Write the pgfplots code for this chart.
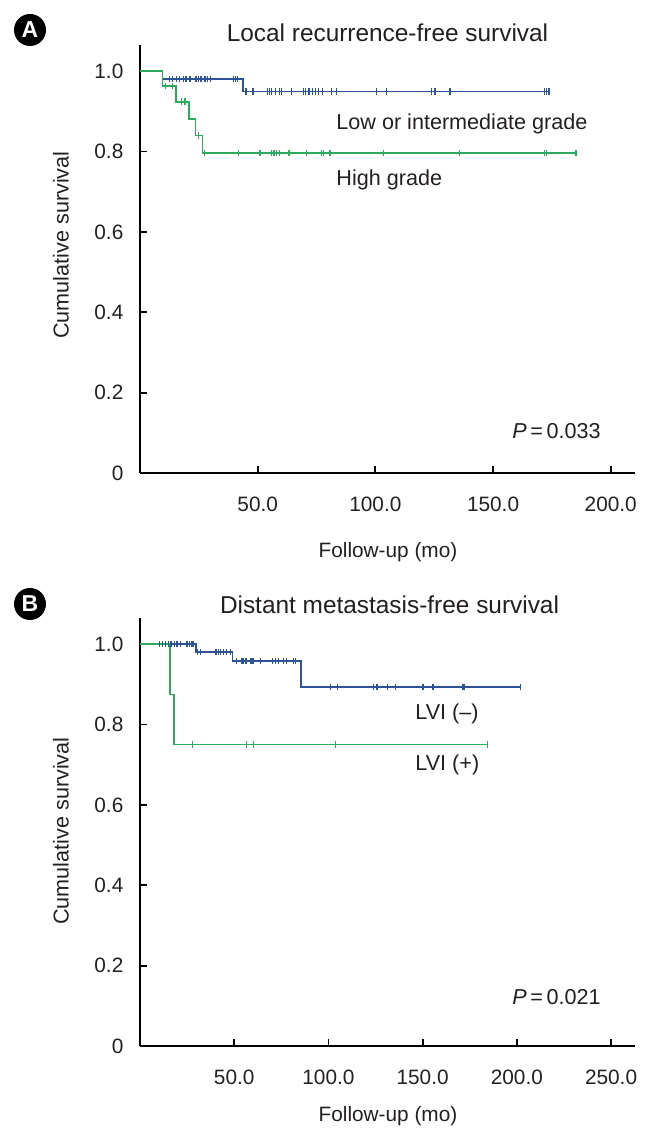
\documentclass[border=0pt]{standalone}
\usepackage{pgfplots}
\pgfplotsset{compat=1.18}
\usepackage{fontspec}
\setmainfont{Liberation Sans}
\definecolor{kmblue}{RGB}{44,82,152}
\definecolor{kmgreen}{RGB}{46,170,94}
\definecolor{txt}{RGB}{35,31,32}
\pgfplotsset{kmaxis/.style={
  scale only axis, width=247.5pt, height=214pt,
  xmin=0, ymin=0, ymax=1.065,
  axis x line*=bottom, axis y line*=left,
  axis line style={line width=1pt, -, black},
  every outer x axis line/.append style={-},
  every outer y axis line/.append style={-},
  tick style={line width=0.9pt, black},
  major tick length=3.5pt,
  tick align=inside,
  ytick={0,0.2,0.4,0.6,0.8,1.0},
  yticklabels={0,0.2,0.4,0.6,0.8,1.0},
  ticklabel style={font=\fontsize{10.4}{11}\selectfont, text=txt},
  xticklabel style={yshift=-8.6pt},
  yticklabel style={xshift=-4.8pt},
  clip=false,
},
kmline/.style={line width=0.85pt, const plot},
kmmark/.style={only marks, mark=|, mark size=1.6pt, mark options={line width=0.6pt}},
}
\begin{document}
\begin{tikzpicture}
\useasboundingbox (0,0) rectangle (329pt,570pt);
% ---------- Panel A ----------
\begin{axis}[kmaxis, at={(70pt,333.5pt)}, anchor=south west,
  xmax=210.3, xtick={50,100,150,200}, xticklabels={50.0,100.0,150.0,200.0}]
\addplot[kmblue, kmline] coordinates {(0,1) (9.6,0.980) (43.9,0.949) (173.8,0.949)};
\addplot[kmgreen, kmline] coordinates {(0,1) (9.6,0.963) (15.3,0.924) (20.7,0.881) (23.6,0.840) (26.5,0.796) (185.2,0.796)};
\addplot[kmblue, kmmark] coordinates {
(12.5,0.980) (13.9,0.980) (15.6,0.980) (16.7,0.980) (18.4,0.980) (19.5,0.980) (21.2,0.980) (23.8,0.980) (24.8,0.980) (25.9,0.980) (27.6,0.980) (28.6,0.980) (29.9,0.980) (39.7,0.980) (40.5,0.980) (41.3,0.980)
(45.0,0.949) (48.0,0.949) (54.1,0.949) (54.9,0.949) (55.9,0.949) (57.6,0.949) (59.2,0.949) (60.2,0.949) (64.3,0.949) (69.4,0.949) (70.4,0.949) (71.8,0.949) (73.4,0.949) (74.4,0.949) (75.9,0.949) (77.5,0.949) (81.4,0.949) (83.6,0.949) (100.6,0.949) (104.6,0.949) (123.9,0.949) (125.3,0.949) (131.7,0.949) (172.0,0.949) (172.8,0.949) (173.8,0.949)};
\addplot[kmgreen, kmmark] coordinates {
(11.0,0.963) (13.9,0.963) (17.7,0.924) (19.1,0.924) (24.8,0.840)
(27.3,0.796) (41.8,0.796) (51.0,0.796) (55.9,0.796) (56.9,0.796) (58.0,0.796) (59.2,0.796) (63.3,0.796) (70.8,0.796) (77.2,0.796) (77.9,0.796) (80.7,0.796) (103.4,0.796) (135.7,0.796) (172.0,0.796) (172.8,0.796) (185.2,0.796)};
\end{axis}
% ---------- Panel B ----------
\begin{axis}[kmaxis, at={(70pt,47pt)}, anchor=south west,
  xmax=262.7, xtick={50,100,150,200,250}, xticklabels={50.0,100.0,150.0,200.0,250.0}]
\addplot[kmblue, kmline] coordinates {(0,1) (29.7,0.981) (49.1,0.958) (85.6,0.893) (201.8,0.893)};
\addplot[kmgreen, kmline] coordinates {(0,1) (16.0,0.875) (18.0,0.750) (184.5,0.750)};
\addplot[kmblue, kmmark] coordinates {
(10.4,1) (11.9,1) (13.4,1) (15.1,1) (16.4,1) (18.3,1) (19.6,1) (21.3,1) (24.5,1) (25.4,1) (26.3,1) (27.2,1) (28.1,1)
(30.7,0.981) (31.9,0.981) (39.9,0.981) (40.8,0.981) (41.7,0.981) (42.6,0.981) (44.3,0.981) (46.1,0.981) (47.9,0.981)
(51.1,0.958) (54.1,0.958) (54.9,0.958) (55.8,0.958) (56.7,0.958) (58.5,0.958) (59.4,0.958) (60.3,0.958) (63.8,0.958) (70.5,0.958) (71.8,0.958) (73.5,0.958) (76.2,0.958) (77.9,0.958) (81.4,0.958) (82.6,0.958)
(101.0,0.893) (104.8,0.893) (124.0,0.893) (125.8,0.893) (131.4,0.893) (135.5,0.893) (150.2,0.893) (155.5,0.893) (171.2,0.893) (171.7,0.893) (172.2,0.893) (201.8,0.893)};
\addplot[kmgreen, kmmark] coordinates {(27.7,0.75) (56.7,0.75) (60.3,0.75) (103.8,0.75) (184.5,0.75)};
\end{axis}
% ---------- text ----------
\begin{scope}[x=0.5pt, y=-0.5pt, yshift=570pt, every node/.style={text=txt, font=\fontsize{10.8}{12}\selectfont, inner sep=0pt}]
\fill[black] (30,30) circle (16);
\node[text=white, font=\fontsize{11.5}{12}\selectfont\bfseries] at (30,30) {A};
\fill[black] (30,604) circle (16);
\node[text=white, font=\fontsize{11.5}{12}\selectfont\bfseries] at (30,604) {B};
\node[font=\fontsize{12.2}{13}\selectfont] at (387.5,33) {Local recurrence-free survival};
\node[font=\fontsize{12.2}{13}\selectfont] at (389.5,605) {Distant metastasis-free survival};
\node[rotate=90] at (61,245) {Cumulative survival};
\node[rotate=90] at (61,831) {Cumulative survival};
\node[font=\fontsize{10.4}{11}\selectfont] at (388,552) {Follow-up (mo)};
\node[font=\fontsize{10.4}{11}\selectfont] at (388,1116) {Follow-up (mo)};
\node[anchor=west] at (336,124) {Low or intermediate grade};
\node[anchor=west] at (336,180) {High grade};
\node[anchor=west] at (415,714) {LVI (–)};
\node[anchor=west] at (415,765) {LVI (+)};
\node[anchor=west] at (512,431) {\itshape P\upshape\,=\,0.033};
\node[anchor=west] at (512,997) {\itshape P\upshape\,=\,0.021};
\end{scope}
\end{tikzpicture}
\end{document}
